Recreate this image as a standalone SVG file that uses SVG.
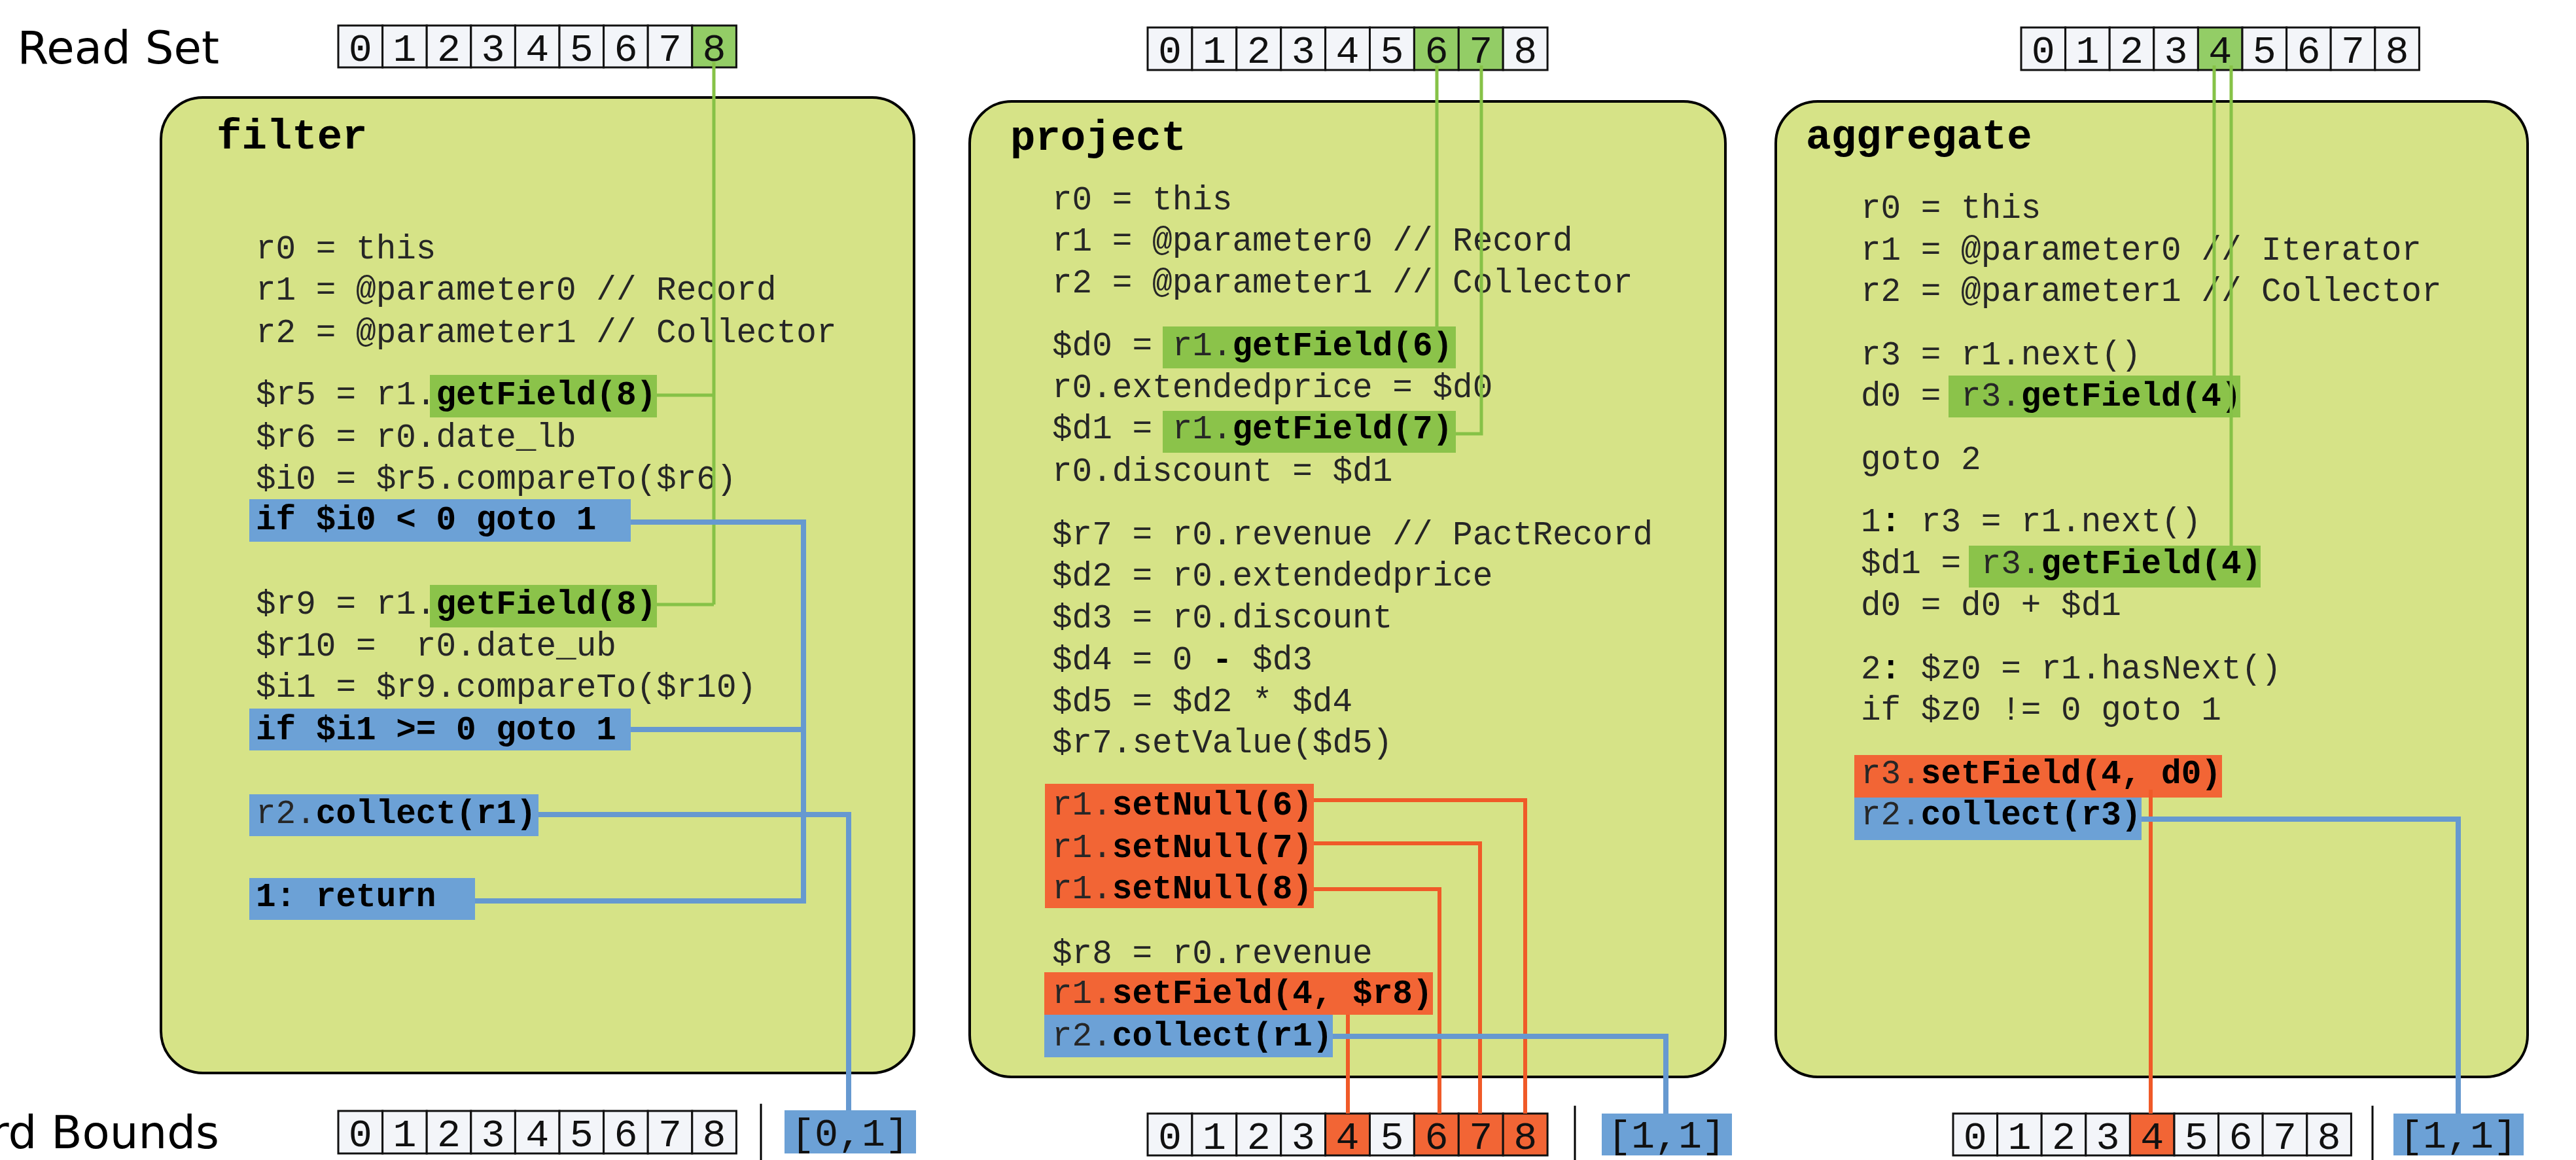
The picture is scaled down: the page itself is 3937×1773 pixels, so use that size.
<svg xmlns="http://www.w3.org/2000/svg" width="3937" height="1773" viewBox="0 0 3937 1773">
<style>
  .panel { fill: #D6E387; stroke: #000; stroke-width: 4; }
  .code { font-family: "Liberation Mono", "DejaVu Sans Mono", monospace; font-size: 51px; fill: #262626; white-space: pre; }
  .b { font-weight: bold; fill: #000; }
  .title { font-family: "Liberation Mono", "DejaVu Sans Mono", monospace; font-size: 64px; font-weight: bold; fill: #000; }
  .label { font-family: "DejaVu Sans", "Liberation Sans", sans-serif; font-size: 69px; fill: #000; text-anchor: end; }
  .cell { fill: #F3F5F9; stroke: #111; stroke-width: 3; }
  .cg { fill: #93CD66; }
  .co { fill: #F26535; }
  .digit { font-family: "Liberation Mono", "DejaVu Sans Mono", monospace; font-size: 60px; fill: #111; text-anchor: middle; }
  .hg { fill: #8BC34A; }
  .hb { fill: #6CA1D6; }
  .ho { fill: #F26535; }
  .bound { fill: #6CA1D6; }
  .sep { stroke: #000; stroke-width: 3; }
  .lg { fill: none; stroke: #86C247; stroke-width: 5; }
  .lb { fill: none; stroke: #6699D0; stroke-width: 8; }
  .lo { fill: none; stroke: #F05A28; stroke-width: 6; }
</style>

<!-- row labels -->
<g id="labels">
  <text class="label" x="335" y="97">Read Set</text>
  <text class="label" x="335" y="1755">Record Bounds</text>
</g>

<!-- operator panels -->
<g id="filter">
  <rect class="panel" x="246" y="149" width="1151" height="1491" rx="64" ry="64"/>
  <text class="title" x="331" y="227">filter</text>
  <rect class="hg" x="657" y="573" width="347" height="65"/>
  <rect class="hb" x="381" y="763" width="583" height="65"/>
  <rect class="hg" x="657" y="894" width="347" height="65"/>
  <rect class="hb" x="381" y="1083" width="583" height="64"/>
  <rect class="hb" x="381" y="1214" width="442" height="64"/>
  <rect class="hb" x="381" y="1342" width="345" height="64"/>
  <text class="code" x="391" y="395">r0 = this</text>
  <text class="code" x="391" y="458">r1 = @parameter0 // Record</text>
  <text class="code" x="391" y="523">r2 = @parameter1 // Collector</text>
  <text class="code" x="391" y="618">$r5 = r1.<tspan class="b">getField(8)</tspan></text>
  <text class="code" x="391" y="683">$r6 = r0.date_lb</text>
  <text class="code" x="391" y="747">$i0 = $r5.compareTo($r6)</text>
  <text class="code b" x="391" y="809">if $i0 &lt; 0 goto 1</text>
  <text class="code" x="391" y="938">$r9 = r1.<tspan class="b">getField(8)</tspan></text>
  <text class="code" x="391" y="1002" xml:space="preserve">$r10 =  r0.date_ub</text>
  <text class="code" x="391" y="1065">$i1 = $r9.compareTo($r10)</text>
  <text class="code b" x="391" y="1130">if $i1 &gt;= 0 goto 1</text>
  <text class="code" x="391" y="1258">r2.<tspan class="b">collect(r1)</tspan></text>
  <text class="code b" x="391" y="1385">1: return</text>
</g>

<g id="project">
  <rect class="panel" x="1482" y="155" width="1155" height="1491" rx="64" ry="64"/>
  <text class="title" x="1544" y="229">project</text>
  <rect class="hg" x="1777" y="499" width="448" height="64"/>
  <rect class="hg" x="1777" y="628" width="448" height="64"/>
  <rect class="ho" x="1597" y="1198" width="411" height="190"/>
  <rect class="ho" x="1596" y="1486" width="594" height="65"/>
  <rect class="hb" x="1596" y="1551" width="441" height="65"/>
  <text class="code" x="1608" y="320">r0 = this</text>
  <text class="code" x="1608" y="383">r1 = @parameter0 // Record</text>
  <text class="code" x="1608" y="447">r2 = @parameter1 // Collector</text>
  <text class="code" x="1608" y="543">$d0 = r1.<tspan class="b">getField(6)</tspan></text>
  <text class="code" x="1608" y="607">r0.extendedprice = $d0</text>
  <text class="code" x="1608" y="670">$d1 = r1.<tspan class="b">getField(7)</tspan></text>
  <text class="code" x="1608" y="735">r0.discount = $d1</text>
  <text class="code" x="1608" y="832">$r7 = r0.revenue // PactRecord</text>
  <text class="code" x="1608" y="895">$d2 = r0.extendedprice</text>
  <text class="code" x="1608" y="959">$d3 = r0.discount</text>
  <text class="code" x="1608" y="1023">$d4 = 0 <tspan class="b">-</tspan> $d3</text>
  <text class="code" x="1608" y="1087">$d5 = $d2 * $d4</text>
  <text class="code" x="1608" y="1150">$r7.setValue($d5)</text>
  <text class="code" x="1608" y="1245">r1.<tspan class="b">setNull(6)</tspan></text>
  <text class="code" x="1608" y="1310">r1.<tspan class="b">setNull(7)</tspan></text>
  <text class="code" x="1608" y="1373">r1.<tspan class="b">setNull(8)</tspan></text>
  <text class="code" x="1608" y="1472">$r8 = r0.revenue</text>
  <text class="code" x="1608" y="1533">r1.<tspan class="b">setField(4, $r8)</tspan></text>
  <text class="code" x="1608" y="1598">r2.<tspan class="b">collect(r1)</tspan></text>
</g>

<g id="aggregate">
  <rect class="panel" x="2714" y="155" width="1149" height="1491" rx="64" ry="64"/>
  <text class="title" x="2760" y="227">aggregate</text>
  <rect class="hg" x="2978" y="574" width="446" height="64"/>
  <rect class="hg" x="3009" y="834" width="446" height="64"/>
  <rect class="ho" x="2834" y="1154" width="562" height="65"/>
  <rect class="hb" x="2834" y="1219" width="439" height="65"/>
  <text class="code" x="2844" y="333">r0 = this</text>
  <text class="code" x="2844" y="397">r1 = @parameter0 // Iterator</text>
  <text class="code" x="2844" y="460">r2 = @parameter1 // Collector</text>
  <text class="code" x="2844" y="557">r3 = r1.next()</text>
  <text class="code" x="2844" y="620">d0 = r3.<tspan class="b">getField(4)</tspan></text>
  <text class="code" x="2844" y="717">goto 2</text>
  <text class="code" x="2844" y="812">1<tspan class="b">:</tspan> r3 = r1.next()</text>
  <text class="code" x="2844" y="876">$d1 = r3.<tspan class="b">getField(4)</tspan></text>
  <text class="code" x="2844" y="940">d0 = d0 + $d1</text>
  <text class="code" x="2844" y="1037">2<tspan class="b">:</tspan> $z0 = r1.hasNext()</text>
  <text class="code" x="2844" y="1100">if $z0 != 0 goto 1</text>
  <text class="code" x="2844" y="1197">r3.<tspan class="b">setField(4, d0)</tspan></text>
  <text class="code" x="2844" y="1260">r2.<tspan class="b">collect(r3)</tspan></text>
</g>

<!-- field arrays: read sets (top) and write sets (bottom) -->
<g id="filter-read" transform="translate(517,39)">
  <rect class="cell" x="0" y="0" width="67.6" height="64"/>
  <rect class="cell" x="67.6" y="0" width="67.6" height="64"/>
  <rect class="cell" x="135.2" y="0" width="67.6" height="64"/>
  <rect class="cell" x="202.8" y="0" width="67.6" height="64"/>
  <rect class="cell" x="270.4" y="0" width="67.6" height="64"/>
  <rect class="cell" x="338" y="0" width="67.6" height="64"/>
  <rect class="cell" x="405.6" y="0" width="67.6" height="64"/>
  <rect class="cell" x="473.2" y="0" width="67.6" height="64"/>
  <rect class="cell cg" x="540.8" y="0" width="67.6" height="64"/>
  <text class="digit" x="33.8" y="54">0</text><text class="digit" x="101.4" y="54">1</text><text class="digit" x="169" y="54">2</text><text class="digit" x="236.6" y="54">3</text><text class="digit" x="304.2" y="54">4</text><text class="digit" x="371.8" y="54">5</text><text class="digit" x="439.4" y="54">6</text><text class="digit" x="507" y="54">7</text><text class="digit" x="574.6" y="54">8</text>
</g>
<g id="filter-write" transform="translate(517,1698)">
  <rect class="cell" x="0" y="0" width="67.6" height="65"/>
  <rect class="cell" x="67.6" y="0" width="67.6" height="65"/>
  <rect class="cell" x="135.2" y="0" width="67.6" height="65"/>
  <rect class="cell" x="202.8" y="0" width="67.6" height="65"/>
  <rect class="cell" x="270.4" y="0" width="67.6" height="65"/>
  <rect class="cell" x="338" y="0" width="67.6" height="65"/>
  <rect class="cell" x="405.6" y="0" width="67.6" height="65"/>
  <rect class="cell" x="473.2" y="0" width="67.6" height="65"/>
  <rect class="cell" x="540.8" y="0" width="67.6" height="65"/>
  <text class="digit" x="33.8" y="54">0</text><text class="digit" x="101.4" y="54">1</text><text class="digit" x="169" y="54">2</text><text class="digit" x="236.6" y="54">3</text><text class="digit" x="304.2" y="54">4</text><text class="digit" x="371.8" y="54">5</text><text class="digit" x="439.4" y="54">6</text><text class="digit" x="507" y="54">7</text><text class="digit" x="574.6" y="54">8</text>
</g>
<g id="project-read" transform="translate(1754,42)">
  <rect class="cell" x="0" y="0" width="67.9" height="65"/>
  <rect class="cell" x="67.9" y="0" width="67.9" height="65"/>
  <rect class="cell" x="135.8" y="0" width="67.9" height="65"/>
  <rect class="cell" x="203.7" y="0" width="67.9" height="65"/>
  <rect class="cell" x="271.6" y="0" width="67.9" height="65"/>
  <rect class="cell" x="339.5" y="0" width="67.9" height="65"/>
  <rect class="cell cg" x="407.4" y="0" width="67.9" height="65"/>
  <rect class="cell cg" x="475.3" y="0" width="67.9" height="65"/>
  <rect class="cell" x="543.2" y="0" width="67.9" height="65"/>
  <text class="digit" x="34" y="54">0</text><text class="digit" x="101.9" y="54">1</text><text class="digit" x="169.8" y="54">2</text><text class="digit" x="237.7" y="54">3</text><text class="digit" x="305.6" y="54">4</text><text class="digit" x="373.5" y="54">5</text><text class="digit" x="441.4" y="54">6</text><text class="digit" x="509.3" y="54">7</text><text class="digit" x="577.2" y="54">8</text>
</g>
<g id="project-write" transform="translate(1754,1702)">
  <rect class="cell" x="0" y="0" width="67.9" height="64"/>
  <rect class="cell" x="67.9" y="0" width="67.9" height="64"/>
  <rect class="cell" x="135.8" y="0" width="67.9" height="64"/>
  <rect class="cell" x="203.7" y="0" width="67.9" height="64"/>
  <rect class="cell co" x="271.6" y="0" width="67.9" height="64"/>
  <rect class="cell" x="339.5" y="0" width="67.9" height="64"/>
  <rect class="cell co" x="407.4" y="0" width="67.9" height="64"/>
  <rect class="cell co" x="475.3" y="0" width="67.9" height="64"/>
  <rect class="cell co" x="543.2" y="0" width="67.9" height="64"/>
  <text class="digit" x="34" y="54">0</text><text class="digit" x="101.9" y="54">1</text><text class="digit" x="169.8" y="54">2</text><text class="digit" x="237.7" y="54">3</text><text class="digit" x="305.6" y="54">4</text><text class="digit" x="373.5" y="54">5</text><text class="digit" x="441.4" y="54">6</text><text class="digit" x="509.3" y="54">7</text><text class="digit" x="577.2" y="54">8</text>
</g>
<g id="aggregate-read" transform="translate(3089,42)">
  <rect class="cell" x="0" y="0" width="67.6" height="65"/>
  <rect class="cell" x="67.6" y="0" width="67.6" height="65"/>
  <rect class="cell" x="135.2" y="0" width="67.6" height="65"/>
  <rect class="cell" x="202.8" y="0" width="67.6" height="65"/>
  <rect class="cell cg" x="270.4" y="0" width="67.6" height="65"/>
  <rect class="cell" x="338" y="0" width="67.6" height="65"/>
  <rect class="cell" x="405.6" y="0" width="67.6" height="65"/>
  <rect class="cell" x="473.2" y="0" width="67.6" height="65"/>
  <rect class="cell" x="540.8" y="0" width="67.6" height="65"/>
  <text class="digit" x="33.8" y="54">0</text><text class="digit" x="101.4" y="54">1</text><text class="digit" x="169" y="54">2</text><text class="digit" x="236.6" y="54">3</text><text class="digit" x="304.2" y="54">4</text><text class="digit" x="371.8" y="54">5</text><text class="digit" x="439.4" y="54">6</text><text class="digit" x="507" y="54">7</text><text class="digit" x="574.6" y="54">8</text>
</g>
<g id="aggregate-write" transform="translate(2985,1702)">
  <rect class="cell" x="0" y="0" width="67.6" height="64"/>
  <rect class="cell" x="67.6" y="0" width="67.6" height="64"/>
  <rect class="cell" x="135.2" y="0" width="67.6" height="64"/>
  <rect class="cell" x="202.8" y="0" width="67.6" height="64"/>
  <rect class="cell co" x="270.4" y="0" width="67.6" height="64"/>
  <rect class="cell" x="338" y="0" width="67.6" height="64"/>
  <rect class="cell" x="405.6" y="0" width="67.6" height="64"/>
  <rect class="cell" x="473.2" y="0" width="67.6" height="64"/>
  <rect class="cell" x="540.8" y="0" width="67.6" height="64"/>
  <text class="digit" x="33.8" y="54">0</text><text class="digit" x="101.4" y="54">1</text><text class="digit" x="169" y="54">2</text><text class="digit" x="236.6" y="54">3</text><text class="digit" x="304.2" y="54">4</text><text class="digit" x="371.8" y="54">5</text><text class="digit" x="439.4" y="54">6</text><text class="digit" x="507" y="54">7</text><text class="digit" x="574.6" y="54">8</text>
</g>

<!-- emitted record bounds -->
<g id="bounds">
  <line class="sep" x1="1163" y1="1687" x2="1163" y2="1773"/>
  <line class="sep" x1="2407" y1="1690" x2="2407" y2="1773"/>
  <line class="sep" x1="3626" y1="1690" x2="3626" y2="1773"/>
  <rect class="bound" x="1199" y="1697" width="201" height="66"/>
  <rect class="bound" x="2448" y="1702" width="199" height="64"/>
  <rect class="bound" x="3658" y="1702" width="199" height="64"/>
  <text class="digit" x="1299" y="1751">[0,1]</text>
  <text class="digit" x="2547" y="1754">[1,1]</text>
  <text class="digit" x="3757" y="1754">[1,1]</text>
</g>

<!-- connectors -->
<g id="connectors">
  <!-- reads -->
  <path class="lg" d="M1091 95 V924 M1004 604 H1091 M1004 924 H1091"/>
  <path class="lg" d="M2196 100 V499"/>
  <path class="lg" d="M2264 100 V663 H2225"/>
  <path class="lg" d="M3384 100 V574"/>
  <path class="lg" d="M3410 100 V834"/>
  <!-- writes -->
  <path class="lo" d="M2008 1223 H2331 V1702"/>
  <path class="lo" d="M2008 1289 H2262 V1702"/>
  <path class="lo" d="M2008 1359 H2200 V1702"/>
  <path class="lo" d="M2060 1551 V1702"/>
  <path class="lo" d="M3287 1207 V1702"/>
  <!-- control flow and emits -->
  <path class="lb" d="M964 798 H1228 V1377 H726 M964 1115 H1228"/>
  <path class="lb" d="M823 1245 H1297 V1697"/>
  <path class="lb" d="M2037 1584 H2546 V1702"/>
  <path class="lb" d="M3273 1252 H3757 V1702"/>
</g>
</svg>
